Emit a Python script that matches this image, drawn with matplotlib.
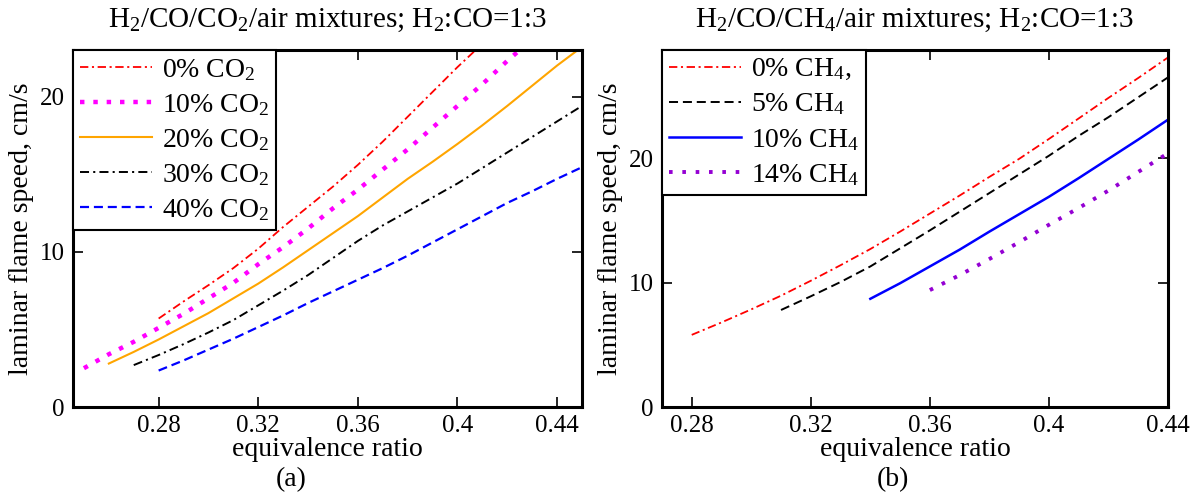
import matplotlib
matplotlib.use("Agg")
import matplotlib.pyplot as plt

# (a) H2/CO/CO2/air, H2:CO = 1:3
phi_co2_0 = [0.28, 0.29, 0.30, 0.31, 0.32, 0.33, 0.34, 0.35, 0.36, 0.37, 0.38, 0.39, 0.40, 0.41]
sl_co2_0 = [5.7, 6.8, 7.85, 8.95, 10.2, 11.6, 12.9, 14.2, 15.6, 17.1, 18.7, 20.3, 21.9, 23.4]

phi_co2_10 = [0.25, 0.26, 0.27, 0.28, 0.29, 0.30, 0.31, 0.32, 0.33, 0.34, 0.35, 0.36, 0.37, 0.38, 0.39, 0.40, 0.41, 0.42, 0.425]
sl_co2_10 = [2.5, 3.4, 4.2, 5.1, 6.0, 7.0, 8.0, 9.2, 10.3, 11.5, 12.8, 14.0, 15.3, 16.6, 18.0, 19.4, 20.8, 22.3, 23.0]

phi_co2_20 = [0.26, 0.27, 0.28, 0.29, 0.30, 0.31, 0.32, 0.33, 0.34, 0.35, 0.36, 0.37, 0.38, 0.39, 0.40, 0.41, 0.42, 0.43, 0.44, 0.45]
sl_co2_20 = [2.8, 3.55, 4.35, 5.2, 6.05, 7.0, 7.95, 9.0, 10.1, 11.2, 12.3, 13.5, 14.7, 15.8, 16.95, 18.15, 19.4, 20.7, 22.0, 23.2]

phi_co2_30 = [0.27, 0.28, 0.29, 0.30, 0.31, 0.32, 0.33, 0.34, 0.35, 0.36, 0.37, 0.38, 0.39, 0.40, 0.41, 0.42, 0.43, 0.44, 0.45]
sl_co2_30 = [2.7, 3.35, 4.05, 4.8, 5.6, 6.55, 7.5, 8.5, 9.6, 10.7, 11.7, 12.6, 13.5, 14.4, 15.4, 16.4, 17.4, 18.4, 19.4]

phi_co2_40 = [0.28, 0.29, 0.30, 0.31, 0.32, 0.33, 0.34, 0.35, 0.36, 0.37, 0.38, 0.39, 0.40, 0.41, 0.42, 0.43, 0.44, 0.45]
sl_co2_40 = [2.35, 3.0, 3.7, 4.4, 5.15, 5.9, 6.7, 7.45, 8.2, 8.95, 9.75, 10.6, 11.45, 12.3, 13.15, 13.9, 14.7, 15.45]

# (b) H2/CO/CH4/air, H2:CO = 1:3
phi_ch4_0 = [0.28, 0.29, 0.30, 0.31, 0.32, 0.33, 0.34, 0.35, 0.36, 0.37, 0.38, 0.39, 0.40, 0.41, 0.42, 0.43, 0.44]
sl_ch4_0 = [5.8, 6.8, 7.85, 8.95, 10.15, 11.4, 12.7, 14.1, 15.55, 17.0, 18.5, 19.95, 21.55, 23.2, 24.85, 26.45, 28.1]

phi_ch4_5 = [0.31, 0.32, 0.33, 0.34, 0.35, 0.36, 0.37, 0.38, 0.39, 0.40, 0.41, 0.42, 0.43, 0.44]
sl_ch4_5 = [7.8, 8.9, 10.05, 11.3, 12.75, 14.2, 15.7, 17.2, 18.7, 20.2, 21.8, 23.3, 24.9, 26.5]

phi_ch4_10 = [0.34, 0.35, 0.36, 0.37, 0.38, 0.39, 0.40, 0.41, 0.42, 0.43, 0.44]
sl_ch4_10 = [8.7, 9.95, 11.3, 12.65, 14.1, 15.5, 16.9, 18.4, 19.95, 21.5, 23.1]

phi_ch4_14 = [0.36, 0.37, 0.38, 0.39, 0.40, 0.41, 0.42, 0.43, 0.44]
sl_ch4_14 = [9.4, 10.6, 11.9, 13.25, 14.65, 16.0, 17.4, 18.9, 20.4]

xticks = [0.28, 0.32, 0.36, 0.40, 0.44]
xticklabels = ["0.28", "0.32", "0.36", "0.4", "0.44"]
yticks = [0, 10, 20]

plt.rcParams["font.family"] = ["Liberation Serif", "DejaVu Serif"]
plt.rcParams["mathtext.fontset"] = "custom"
plt.rcParams["mathtext.rm"] = "Liberation Serif"
plt.rcParams["mathtext.default"] = "regular"
plt.rcParams["lines.scale_dashes"] = False
plt.rcParams["lines.dash_capstyle"] = "butt"

# dash patterns in points
dashdot_red = (0, (6.0, 2.6, 1.5, 2.6))
dashdot_blk = (0, (6.5, 3.0, 1.5, 3.0))
dashed = (0, (6.5, 3.5))
dots_big = (0, (3.2, 6.4))
dots_small = (0, (2.6, 7.0))

fig = plt.figure(figsize=(12.04, 4.98), dpi=100)
ax1 = fig.add_axes([0.0604, 0.1827, 0.4230, 0.7169])
ax2 = fig.add_axes([0.5498, 0.1827, 0.4203, 0.7169])

ax1.plot(phi_co2_0, sl_co2_0, color="#ff0000", lw=1.3, linestyle=dashdot_red, label="0% CO$_2$")
ax1.plot(phi_co2_10, sl_co2_10, color="#ff00ff", lw=3.2, linestyle=dots_big, label="10% CO$_2$")
ax1.plot(phi_co2_20, sl_co2_20, color="#ffa500", lw=1.5, linestyle="-", label="20% CO$_2$")
ax1.plot(phi_co2_30, sl_co2_30, color="black", lw=1.4, linestyle=dashdot_blk, label="30% CO$_2$")
ax1.plot(phi_co2_40, sl_co2_40, color="#0000ff", lw=1.6, linestyle=dashed, label="40% CO$_2$")
ax1.set_xlim(0.2455, 0.45)
ax1.set_ylim(0, 23)
ax1.set_title("H$_2$/CO/CO$_2$/air mixtures; H$_2$:CO=1:3", fontsize=21, pad=17)

ax2.plot(phi_ch4_0, sl_ch4_0, color="#ff0000", lw=1.3, linestyle=dashdot_red, label="0% CH$_4$,")
ax2.plot(phi_ch4_5, sl_ch4_5, color="black", lw=1.4, linestyle=dashed, label="5% CH$_4$")
ax2.plot(phi_ch4_10, sl_ch4_10, color="#0000ff", lw=1.8, linestyle="-", label="10% CH$_4$")
ax2.plot(phi_ch4_14, sl_ch4_14, color="#9400d3", lw=2.8, linestyle=dots_small, label="14% CH$_4$")
ax2.set_xlim(0.27, 0.44)
ax2.set_ylim(0, 28.7)
ax2.set_title("H$_2$/CO/CH$_4$/air mixtures; H$_2$:CO=1:3", fontsize=21, pad=17)

for ax in (ax1, ax2):
    ax.set_xticks(xticks)
    ax.set_xticklabels(xticklabels)
    ax.set_yticks(yticks)
    ax.tick_params(direction="in", top=True, right=True, length=7, width=1.2,
                   labelsize=18, pad=6)
    for s in ax.spines.values():
        s.set_linewidth(2.2)
    ax.set_xlabel("equivalence ratio", fontsize=20, labelpad=0)
    ax.set_ylabel("laminar flame speed, cm/s", fontsize=20, labelpad=4)
    leg = ax.legend(loc="upper left", fontsize=20, borderaxespad=0, fancybox=False,
                    framealpha=1, edgecolor="black", handlelength=2.6,
                    handletextpad=0.35, borderpad=0.25, labelspacing=0.33)
    leg.get_frame().set_linewidth(1.5)

fig.text(0.2417, 0.036, "(a)", fontsize=20, ha="center", va="center")
fig.text(0.742, 0.036, "(b)", fontsize=20, ha="center", va="center")

fig.savefig("out.png", dpi=100)
